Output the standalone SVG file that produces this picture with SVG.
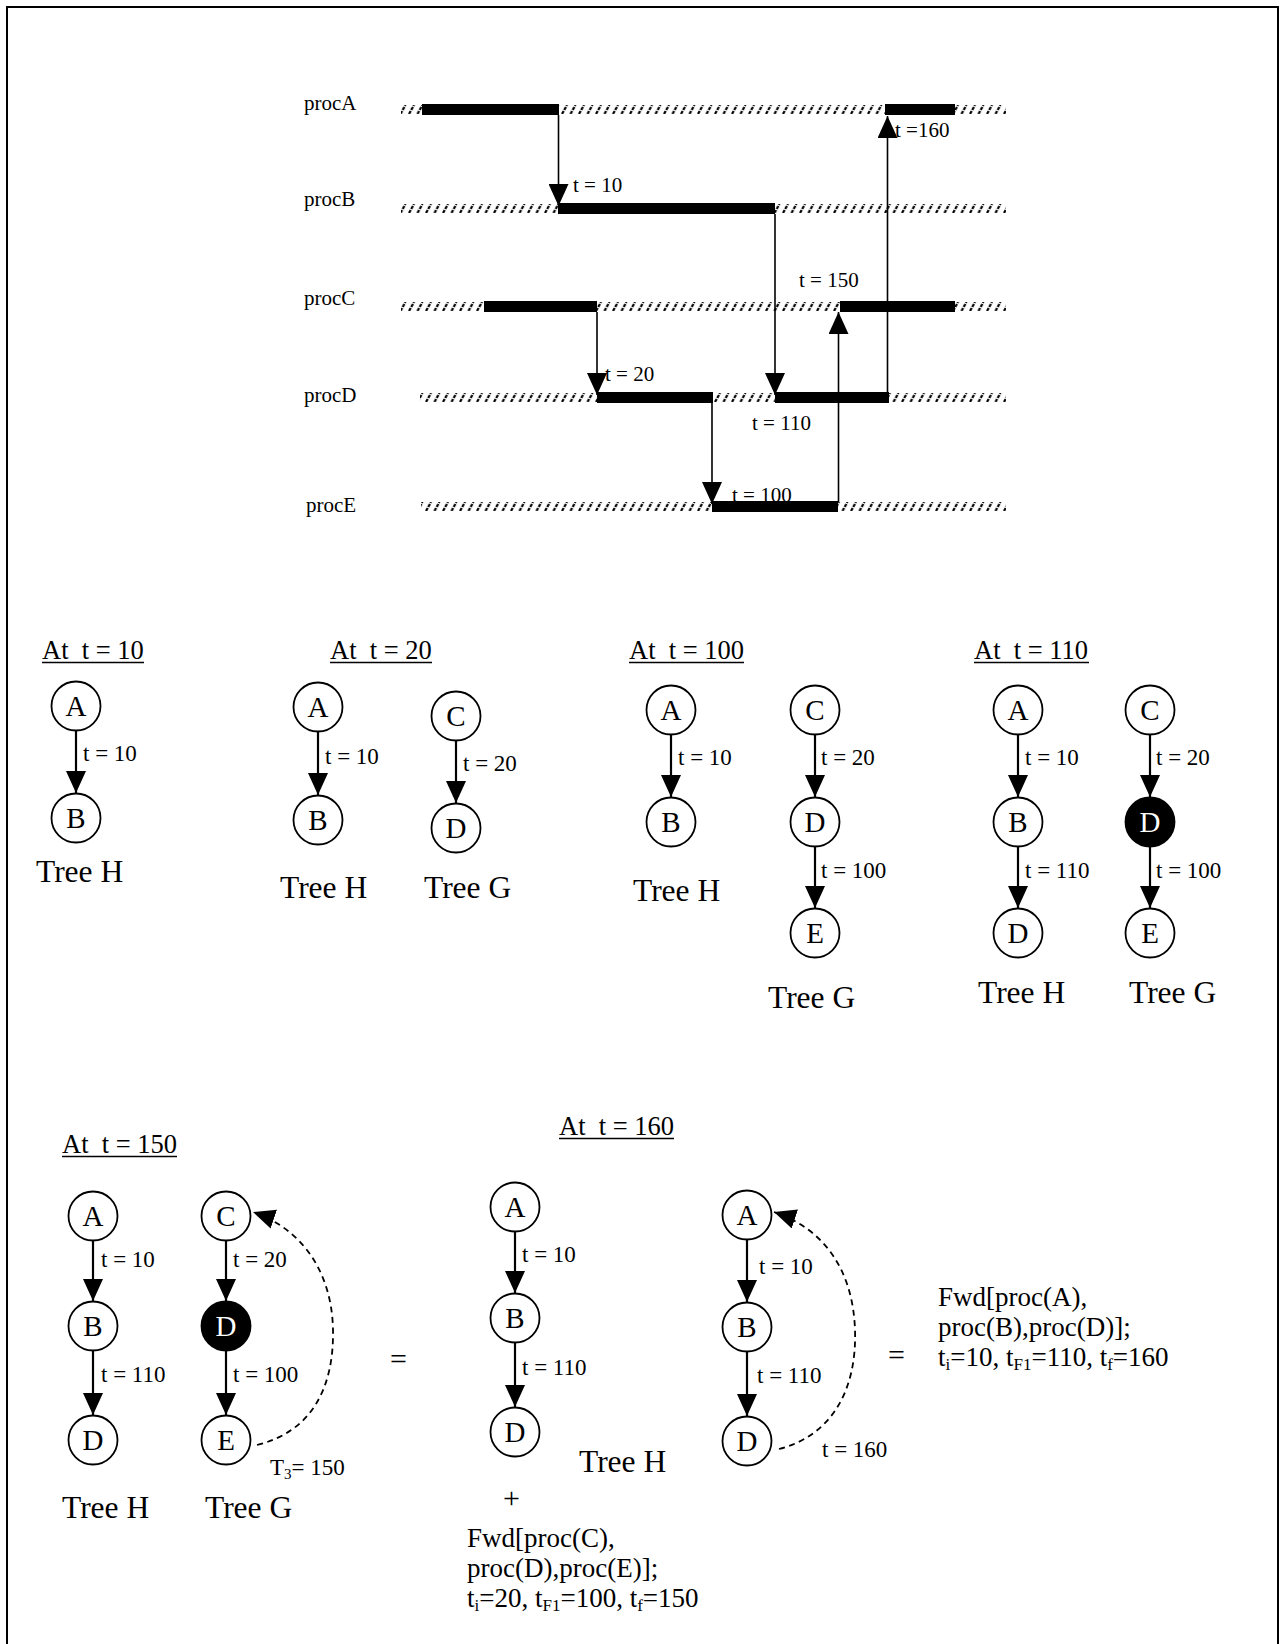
<svg xmlns="http://www.w3.org/2000/svg" width="1284" height="1644" viewBox="0 0 1284 1644">
<style>
text{font-family:"Liberation Serif","Times New Roman",serif;fill:#000}
.pl{font-size:21px}
.tl{font-size:21px}
.hd{font-size:26.5px;white-space:pre}
.nl{font-size:29px;text-anchor:middle}
.nlw{font-size:29px;text-anchor:middle;fill:#fff}
.el{font-size:23px}
.tr{font-size:31.5px}
.eq{font-size:30px}
.fw{font-size:27px}
.sub{font-size:17px}
.sub2{font-size:15px}
.node{fill:#fff;stroke:#000;stroke-width:1.8}
.blk{fill:#000;stroke:#000;stroke-width:1.8}
.edge{stroke:#000;stroke-width:2.2;fill:none}
.tarr{stroke:#000;stroke-width:1.6;fill:none}
.dash{stroke:#000;stroke-width:1.8;fill:none;stroke-dasharray:6 4.5}
.ul{stroke:#000;stroke-width:1.4}
.bar{fill:#000}
</style>
<defs>
<marker id="ah" markerUnits="userSpaceOnUse" markerWidth="22" markerHeight="20" viewBox="0 0 22 20" refX="22" refY="10" orient="auto">
<path d="M0,0 L22,10 L0,20 z" fill="#000"/>
</marker>
<pattern id="hatch" patternUnits="userSpaceOnUse" width="8.5" height="9">
<path d="M1,9 L6,0" stroke="#000" stroke-width="2.2" stroke-dasharray="3.4 1.2"/>
</pattern>
</defs>
<rect width="1284" height="1644" fill="#fff"/>
<path d="M7,1644 V7 H1278 V1644" fill="none" stroke="#000" stroke-width="2"/>

<!-- Timeline -->
<g id="timeline">
<g id="labels-proc">
<text class="pl" x="304" y="110">procA</text>
<text class="pl" x="304" y="206">procB</text>
<text class="pl" x="304" y="305">procC</text>
<text class="pl" x="304" y="402">procD</text>
<text class="pl" x="306" y="512">procE</text>
</g>
<g id="time-labels">
<text class="tl" x="573" y="192">t = 10</text>
<text class="tl" x="895" y="137">t =160</text>
<text class="tl" x="799" y="287">t = 150</text>
<text class="tl" x="605" y="381">t = 20</text>
<text class="tl" x="752" y="430">t = 110</text>
<text class="tl" x="732" y="502">t = 100</text>
</g>
<g id="procA" transform="translate(0,105)">
<rect x="401" y="0" width="605" height="9" fill="url(#hatch)"/>
<rect class="bar" x="422" y="-1" width="137" height="11"/>
<rect class="bar" x="885" y="-1" width="70" height="11"/>
</g>
<g id="procB" transform="translate(0,204)">
<rect x="401" y="0" width="605" height="9" fill="url(#hatch)"/>
<rect class="bar" x="558" y="-1" width="217" height="11"/>
</g>
<g id="procC" transform="translate(0,302)">
<rect x="401" y="0" width="605" height="9" fill="url(#hatch)"/>
<rect class="bar" x="484" y="-1" width="113" height="11"/>
<rect class="bar" x="840" y="-1" width="115" height="11"/>
</g>
<g id="procD" transform="translate(0,393)">
<rect x="420" y="0" width="586" height="9" fill="url(#hatch)"/>
<rect class="bar" x="597" y="-1" width="116" height="11"/>
<rect class="bar" x="775" y="-1" width="114" height="11"/>
</g>
<g id="procE" transform="translate(0,502)">
<rect x="421" y="0" width="585" height="9" fill="url(#hatch)"/>
<rect class="bar" x="712" y="-1" width="126" height="11"/>
</g>
</g>

<g id="timeline-connectors">
<line class="tarr" x1="558.5" y1="115" x2="558.5" y2="206" marker-end="url(#ah)"/>
<line class="tarr" x1="775" y1="214" x2="775" y2="395" marker-end="url(#ah)"/>
<line class="tarr" x1="597" y1="312" x2="597" y2="395" marker-end="url(#ah)"/>
<line class="tarr" x1="712" y1="403" x2="712" y2="504" marker-end="url(#ah)"/>
<line class="tarr" x1="838.5" y1="502" x2="838.5" y2="312" marker-end="url(#ah)"/>
<line class="tarr" x1="887.5" y1="393" x2="887.5" y2="116" marker-end="url(#ah)"/>
</g>

<!-- Headings -->
<g id="headings">
<text class="hd" x="42" y="659">At  t = 10</text><line class="ul" x1="42" y1="662.5" x2="144" y2="662.5"/>
<text class="hd" x="330" y="659">At  t = 20</text><line class="ul" x1="330" y1="662.5" x2="432" y2="662.5"/>
<text class="hd" x="629" y="659">At  t = 100</text><line class="ul" x1="629" y1="662.5" x2="744" y2="662.5"/>
<text class="hd" x="974" y="659">At  t = 110</text><line class="ul" x1="974" y1="662.5" x2="1089" y2="662.5"/>
<text class="hd" x="62" y="1153">At  t = 150</text><line class="ul" x1="62" y1="1156.5" x2="177" y2="1156.5"/>
<text class="hd" x="559" y="1135">At  t = 160</text><line class="ul" x1="559" y1="1138.5" x2="674" y2="1138.5"/>
</g>

<!-- Tree edges -->
<g id="tree-connectors">
<line class="edge" x1="76" y1="731" x2="76" y2="793" marker-end="url(#ah)"/>
<line class="edge" x1="318" y1="732" x2="318" y2="795" marker-end="url(#ah)"/>
<line class="edge" x1="456" y1="741" x2="456" y2="803" marker-end="url(#ah)"/>
<line class="edge" x1="671" y1="735" x2="671" y2="797" marker-end="url(#ah)"/>
<line class="edge" x1="815" y1="735" x2="815" y2="797" marker-end="url(#ah)"/>
<line class="edge" x1="815" y1="847" x2="815" y2="908" marker-end="url(#ah)"/>
<line class="edge" x1="1018" y1="735" x2="1018" y2="797" marker-end="url(#ah)"/>
<line class="edge" x1="1018" y1="847" x2="1018" y2="908" marker-end="url(#ah)"/>
<line class="edge" x1="1150" y1="735" x2="1150" y2="797" marker-end="url(#ah)"/>
<line class="edge" x1="1150" y1="847" x2="1150" y2="908" marker-end="url(#ah)"/>
<line class="edge" x1="93" y1="1241" x2="93" y2="1301" marker-end="url(#ah)"/>
<line class="edge" x1="93" y1="1351" x2="93" y2="1415" marker-end="url(#ah)"/>
<line class="edge" x1="226" y1="1241" x2="226" y2="1301" marker-end="url(#ah)"/>
<line class="edge" x1="226" y1="1351" x2="226" y2="1415" marker-end="url(#ah)"/>
<path class="dash" d="M257,1445 C310,1432 334,1390 333,1330 C332,1270 300,1228 253,1212" marker-end="url(#ah)"/>
<line class="edge" x1="515" y1="1232" x2="515" y2="1293" marker-end="url(#ah)"/>
<line class="edge" x1="515" y1="1343" x2="515" y2="1407" marker-end="url(#ah)"/>
<line class="edge" x1="747" y1="1240" x2="747" y2="1302" marker-end="url(#ah)"/>
<line class="edge" x1="747" y1="1352" x2="747" y2="1416" marker-end="url(#ah)"/>
<path class="dash" d="M779,1449 C830,1436 857,1392 855,1330 C853,1268 822,1228 774,1212" marker-end="url(#ah)"/>
</g>

<!-- Edge labels -->
<g id="edge-labels">
<text class="el" x="83" y="761">t = 10</text>
<text class="el" x="325" y="764">t = 10</text>
<text class="el" x="463" y="771">t = 20</text>
<text class="el" x="678" y="765">t = 10</text>
<text class="el" x="821" y="765">t = 20</text>
<text class="el" x="821" y="878">t = 100</text>
<text class="el" x="1025" y="765">t = 10</text>
<text class="el" x="1025" y="878">t = 110</text>
<text class="el" x="1156" y="765">t = 20</text>
<text class="el" x="1156" y="878">t = 100</text>
<text class="el" x="101" y="1267">t = 10</text>
<text class="el" x="101" y="1382">t = 110</text>
<text class="el" x="233" y="1267">t = 20</text>
<text class="el" x="233" y="1382">t = 100</text>
<text class="el" x="270" y="1475">T<tspan class="sub2" dy="4">3</tspan><tspan dy="-4">= 150</tspan></text>
<text class="el" x="522" y="1262">t = 10</text>
<text class="el" x="522" y="1375">t = 110</text>
<text class="el" x="759" y="1274">t = 10</text>
<text class="el" x="757" y="1383">t = 110</text>
<text class="el" x="822" y="1457">t = 160</text>
</g>

<!-- Nodes -->
<g id="t10-A"><circle class="node" cx="76" cy="706" r="24.5"/><text class="nl" x="76" y="716">A</text></g>
<g id="t10-B"><circle class="node" cx="76" cy="818" r="24.5"/><text class="nl" x="76" y="828">B</text></g>
<g id="t20-A"><circle class="node" cx="318" cy="707" r="24.5"/><text class="nl" x="318" y="717">A</text></g>
<g id="t20-B"><circle class="node" cx="318" cy="820" r="24.5"/><text class="nl" x="318" y="830">B</text></g>
<g id="t20-C"><circle class="node" cx="456" cy="716" r="24.5"/><text class="nl" x="456" y="726">C</text></g>
<g id="t20-D"><circle class="node" cx="456" cy="828" r="24.5"/><text class="nl" x="456" y="838">D</text></g>
<g id="t100-A"><circle class="node" cx="671" cy="710" r="24.5"/><text class="nl" x="671" y="720">A</text></g>
<g id="t100-B"><circle class="node" cx="671" cy="822" r="24.5"/><text class="nl" x="671" y="832">B</text></g>
<g id="t100-C"><circle class="node" cx="815" cy="710" r="24.5"/><text class="nl" x="815" y="720">C</text></g>
<g id="t100-D"><circle class="node" cx="815" cy="822" r="24.5"/><text class="nl" x="815" y="832">D</text></g>
<g id="t100-E"><circle class="node" cx="815" cy="933" r="24.5"/><text class="nl" x="815" y="943">E</text></g>
<g id="t110-A"><circle class="node" cx="1018" cy="710" r="24.5"/><text class="nl" x="1018" y="720">A</text></g>
<g id="t110-B"><circle class="node" cx="1018" cy="822" r="24.5"/><text class="nl" x="1018" y="832">B</text></g>
<g id="t110-D1"><circle class="node" cx="1018" cy="933" r="24.5"/><text class="nl" x="1018" y="943">D</text></g>
<g id="t110-C"><circle class="node" cx="1150" cy="710" r="24.5"/><text class="nl" x="1150" y="720">C</text></g>
<g id="t110-D2"><circle class="blk" cx="1150" cy="822" r="24.5"/><text class="nlw" x="1150" y="832">D</text></g>
<g id="t110-E"><circle class="node" cx="1150" cy="933" r="24.5"/><text class="nl" x="1150" y="943">E</text></g>
<g id="t150-A"><circle class="node" cx="93" cy="1216" r="24.5"/><text class="nl" x="93" y="1226">A</text></g>
<g id="t150-B"><circle class="node" cx="93" cy="1326" r="24.5"/><text class="nl" x="93" y="1336">B</text></g>
<g id="t150-D1"><circle class="node" cx="93" cy="1440" r="24.5"/><text class="nl" x="93" y="1450">D</text></g>
<g id="t150-C"><circle class="node" cx="226" cy="1216" r="24.5"/><text class="nl" x="226" y="1226">C</text></g>
<g id="t150-D2"><circle class="blk" cx="226" cy="1326" r="24.5"/><text class="nlw" x="226" y="1336">D</text></g>
<g id="t150-E"><circle class="node" cx="226" cy="1440" r="24.5"/><text class="nl" x="226" y="1450">E</text></g>
<g id="t160-A1"><circle class="node" cx="515" cy="1207" r="24.5"/><text class="nl" x="515" y="1217">A</text></g>
<g id="t160-B1"><circle class="node" cx="515" cy="1318" r="24.5"/><text class="nl" x="515" y="1328">B</text></g>
<g id="t160-D1"><circle class="node" cx="515" cy="1432" r="24.5"/><text class="nl" x="515" y="1442">D</text></g>
<g id="t160-A2"><circle class="node" cx="747" cy="1215" r="24.5"/><text class="nl" x="747" y="1225">A</text></g>
<g id="t160-B2"><circle class="node" cx="747" cy="1327" r="24.5"/><text class="nl" x="747" y="1337">B</text></g>
<g id="t160-D2"><circle class="node" cx="747" cy="1441" r="24.5"/><text class="nl" x="747" y="1451">D</text></g>

<!-- Tree labels and other texts -->
<g id="tree-labels">
<text class="tr" x="36" y="882">Tree H</text>
<text class="tr" x="280" y="898">Tree H</text>
<text class="tr" x="424" y="898">Tree G</text>
<text class="tr" x="633" y="901">Tree H</text>
<text class="tr" x="768" y="1008">Tree G</text>
<text class="tr" x="978" y="1003">Tree H</text>
<text class="tr" x="1129" y="1003">Tree G</text>
<text class="tr" x="62" y="1518">Tree H</text>
<text class="tr" x="205" y="1518">Tree G</text>
<text class="tr" x="579" y="1472">Tree H</text>
</g>
<g id="formulas">
<text class="eq" x="390" y="1369">=</text>
<text class="eq" x="503" y="1508">+</text>
<text class="eq" x="888" y="1365">=</text>
<text class="fw" x="467" y="1547">Fwd[proc(C),</text>
<text class="fw" x="467" y="1577">proc(D),proc(E)];</text>
<text class="fw" x="467" y="1607">t<tspan class="sub" dy="4">i</tspan><tspan dy="-4">=20, t</tspan><tspan class="sub" dy="4">F1</tspan><tspan dy="-4">=100, t</tspan><tspan class="sub" dy="4">f</tspan><tspan dy="-4">=150</tspan></text>
<text class="fw" x="938" y="1306">Fwd[proc(A),</text>
<text class="fw" x="938" y="1336">proc(B),proc(D)];</text>
<text class="fw" x="938" y="1366">t<tspan class="sub" dy="4">i</tspan><tspan dy="-4">=10, t</tspan><tspan class="sub" dy="4">F1</tspan><tspan dy="-4">=110, t</tspan><tspan class="sub" dy="4">f</tspan><tspan dy="-4">=160</tspan></text>
</g>
</svg>
